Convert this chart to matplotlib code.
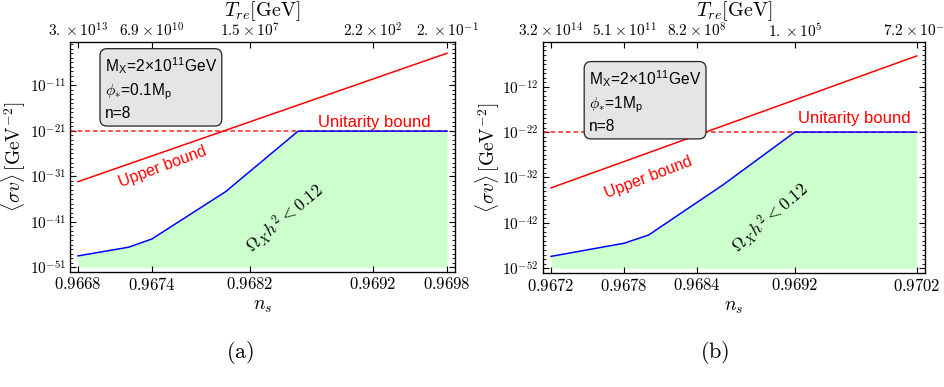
import numpy as np
import matplotlib
matplotlib.use("Agg")
import matplotlib.pyplot as plt
from matplotlib.ticker import FixedLocator, NullFormatter

plt.rcParams['mathtext.fontset'] = 'cm'
plt.rcParams['font.family'] = ['Liberation Sans', 'DejaVu Sans']

# ---- panel (a): phi* = 0.1 Mp ----
ns_ticks_a = [0.9668, 0.9674, 0.9682, 0.9692, 0.9698]
T_labels_a = [r'$3.\times10^{13}$', r'$6.9\times10^{10}$', r'$1.5\times10^{7}$',
              r'$2.2\times10^{2}$', r'$2.\times10^{-1}$']
y_ticks_a = [-51, -41, -31, -21, -11]
ns_upper_a = [0.9668, 0.9698]
log_upper_a = [-32.2, -4.0]
ns_blue_a = [0.9668, 0.96721, 0.9674, 0.9680, 0.96859, 0.9698]
log_blue_a = [-48.5, -46.6, -44.8, -34.4, -21.1, -21.1]
log_unit_a = -21.1
log_floor_a = -51.0

# ---- panel (b): phi* = 1 Mp ----
ns_ticks_b = [0.9672, 0.9678, 0.9684, 0.9692, 0.9702]
T_labels_b = [r'$3.2\times10^{14}$', r'$5.1\times10^{11}$', r'$8.2\times10^{8}$',
              r'$1.\times10^{5}$', r'$7.2\times10^{-1}$']
y_ticks_b = [-52, -42, -32, -22, -12]
ns_upper_b = [0.9672, 0.9702]
log_upper_b = [-34.3, -5.2]
ns_blue_b = [0.9672, 0.9678, 0.9680, 0.96861, 0.9692, 0.9702]
log_blue_b = [-49.4, -46.5, -44.7, -33.65, -22.0, -22.0]
log_unit_b = -22.0
log_floor_b = -52.0

fig = plt.figure(figsize=(9.45, 3.87), dpi=100)


def panel(rect, xlim, ylim, ns_ticks, T_labels, y_ticks, ns_up, log_up,
          ns_bl, log_bl, log_unit, log_floor, info, txt_pos):
    ax = fig.add_axes(rect)
    ax.set_yscale('log')
    ns_bl = np.array(ns_bl)
    bl = 10.0 ** np.array(log_bl)
    ax.fill_between(ns_bl, 10.0 ** log_floor, bl, color='#ccffcc', lw=0, zorder=1)
    ax.plot([xlim[0], ns_ticks[-1]], [10.0 ** log_unit] * 2, color='#ff2020',
            ls=(0, (3, 2)), lw=1.1, zorder=2)
    ax.plot(ns_bl, bl, color='#0000ff', lw=1.1, zorder=3)
    ax.plot(ns_up, 10.0 ** np.array(log_up), color='#ff0000', lw=1.1, zorder=3)
    ax.set_xlim(*xlim)
    ax.set_ylim(10.0 ** ylim[0], 10.0 ** ylim[1])

    ax.xaxis.set_major_locator(FixedLocator(ns_ticks))
    ax.set_xticklabels([r'$%.4f$' % v for v in ns_ticks])
    ax.yaxis.set_major_locator(FixedLocator([10.0 ** k for k in y_ticks]))
    ax.set_yticklabels([r'$10^{%d}$' % k for k in y_ticks])
    minors = [10.0 ** k for k in range(int(np.floor(ylim[0])), int(np.ceil(ylim[1])) + 1)
              if k not in y_ticks]
    ax.yaxis.set_minor_locator(FixedLocator(minors))
    ax.yaxis.set_minor_formatter(NullFormatter())
    ax.tick_params(which='both', direction='in', right=True, pad=3)
    ax.tick_params(axis='x', labelsize=12)
    ax.tick_params(axis='y', labelsize=11)
    ax.tick_params(which='major', length=4, width=0.8)
    ax.tick_params(which='minor', length=2, width=0.6)
    for s in ax.spines.values():
        s.set_linewidth(0.9)

    top = ax.twiny()
    top.set_xlim(*xlim)
    top.xaxis.set_major_locator(FixedLocator(ns_ticks))
    top.set_xticklabels(T_labels)
    top.tick_params(direction='in', labelsize=11, pad=2, length=4, width=0.8)
    top.set_xlabel(r'$T_{re}[\mathrm{GeV}]$', fontsize=14.5, labelpad=4)

    ax.set_xlabel(r'$n_s$', fontsize=14, labelpad=4)
    ax.set_ylabel(r'$\langle\sigma v\rangle\,[\mathrm{GeV}^{-2}]$', fontsize=14)
    ax.yaxis.set_label_coords(-0.108, 0.5)

    ax.text(info[0], info[1], info[2], transform=ax.transAxes, ha='left', va='center',
            fontsize=11.2, linespacing=1.38,
            bbox=dict(boxstyle='round,pad=0.3,rounding_size=0.45', fc='#e5e5e5',
                      ec='#222222', lw=0.9), zorder=5)

    (ux, uy), (bx, by, brot), (ox, oy, orot) = txt_pos
    ax.text(ux, 10.0 ** uy, 'Unitarity bound', color='#ff0000', fontsize=12,
            ha='center', va='center')
    ax.text(bx, 10.0 ** by, 'Upper bound', color='#ff0000', fontsize=11.5,
            ha='center', va='center', rotation=brot, rotation_mode='anchor')
    ax.text(ox, 10.0 ** oy, r'$\Omega_X h^2 < 0.12$', color='black', fontsize=12.5,
            ha='center', va='center', rotation=orot, rotation_mode='anchor')

    return ax


panel([70 / 945, 1 - 271.7 / 387, 385 / 945, 229.4 / 387],
      (0.966735, 0.969865), (-51.97, -1.6),
      ns_ticks_a, T_labels_a, y_ticks_a, ns_upper_a, log_upper_a,
      ns_blue_a, log_blue_a, log_unit_a, log_floor_a,
      (0.09, 0.80, 'M$_\\mathregular{X}$=2×10$^{\\mathregular{11}}$GeV\n'
                   '$\\phi_{*}$=0.1M$_\\mathregular{p}$\nn=8'),
      ((0.96921, -19.1), (0.96749, -29.0, 20.5), (0.96848, -40.2, 40)))

panel([543 / 945, 1 - 272.7 / 387, 382 / 945, 230.4 / 387],
      (0.967134, 0.970268), (-53.0, -2.2),
      ns_ticks_b, T_labels_b, y_ticks_b, ns_upper_b, log_upper_b,
      ns_blue_b, log_blue_b, log_unit_b, log_floor_b,
      (0.12, 0.745, 'M$_\\mathregular{X}$=2×10$^{\\mathregular{11}}$GeV\n'
                    '$\\phi_{*}$=1M$_\\mathregular{p}$\nn=8'),
      ((0.96969, -18.9), (0.96800, -31.9, 21), (0.96900, -40.9, 41)))

# sub-figure captions
fig.text(240 / 945, 1 - 352 / 387, r'$\mathrm{(a)}$', fontsize=16, ha='center', va='center')
fig.text(715 / 945, 1 - 352 / 387, r'$\mathrm{(b)}$', fontsize=16, ha='center', va='center')

fig.savefig('out.png', dpi=100)
